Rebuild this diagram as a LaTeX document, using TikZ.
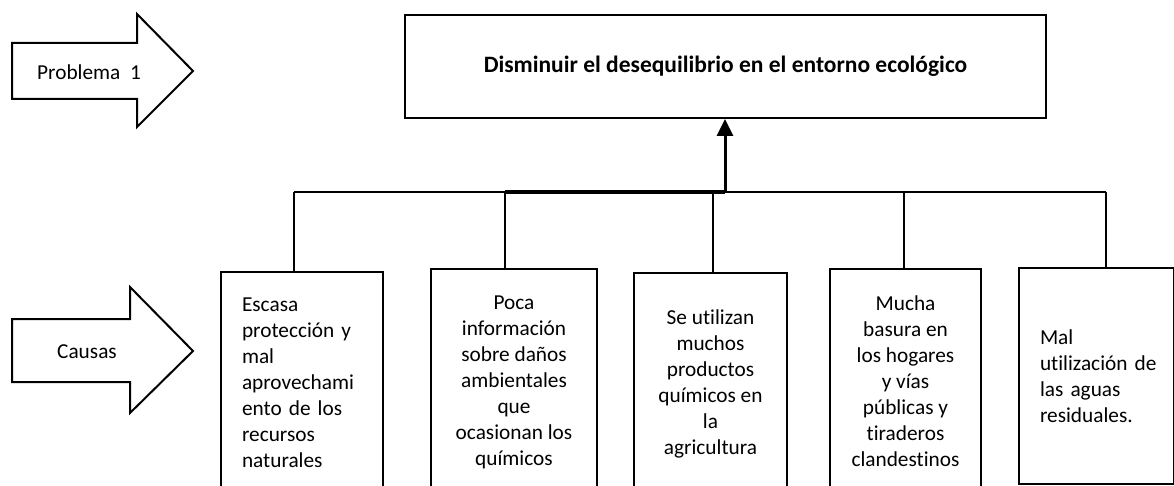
\documentclass[tikz,border=0pt]{standalone}
\usepackage{fontspec}
\setmainfont{Carlito}[Ligatures=NoCommon]
\usetikzlibrary{arrows.meta}
\begin{document}
\begin{tikzpicture}[x=1pt,y=-1pt,
  bodyfont/.style={font=\fontsize{21.3}{26}\selectfont},
  box/.style={draw, line width=2pt, inner sep=0pt, anchor=north west, bodyfont},
  cbox/.style={box, align=center},
  lbox/.style={box, align=left},
  link/.style={line width=2pt},
  thicklink/.style={line width=3.5pt},
  blockarrow/.style={draw, line width=2pt, line join=miter, fill=white},
  lbl/.style={inner sep=0pt, bodyfont}
]
\clip (0,0) rectangle (1174,486);
\fill[white] (0,0) rectangle (1174,486);

% block arrows on the left
\draw[blockarrow] (12,43) -- (137,43) -- (137,14) -- (193,71) -- (137,127) -- (137,99) -- (12,99) -- cycle;
\node[lbl] (prob) at (89,72) {Problema~~1};
\draw[blockarrow] (12,319) -- (130,319) -- (130,287) -- (193,351) -- (130,413) -- (130,382) -- (12,382) -- cycle;
\node[lbl] (caus) at (87,352) {Causas};

% problem box
\node[box, minimum width=641pt, minimum height=103pt,
      font=\bfseries\fontsize{23.5}{28}\selectfont] (top) at (404,14)
  {Disminuir el desequilibrio en el entorno ecológico};

% cause boxes
\node[lbox, minimum width=162pt, minimum height=221pt, text width=120pt] (b1) at (220,271)
  {\mbox{Escasa}\\\mbox{protección y}\\\mbox{mal}\\\mbox{aprovechami}\\\mbox{ento de los}\\\mbox{recursos}\\\mbox{naturales}};
\node[cbox, minimum width=166pt, minimum height=227pt] (b2) at (430,268)
  {Poca\\información\\sobre daños\\ambientales\\que\\ocasionan los\\químicos};
\node[cbox, minimum width=153pt, minimum height=222pt] (b3) at (633,272)
  {Se utilizan\\muchos\\productos\\químicos en\\la\\agricultura};
\node[cbox, minimum width=151pt, minimum height=225pt] (b4) at (829,268)
  {Mucha\\basura en\\los hogares\\y vías\\públicas y\\tiraderos\\clandestinos};
\node[lbox, minimum width=155pt, minimum height=216pt, text width=113pt] (b5) at (1018,267)
  {\mbox{Mal}\\\mbox{utilización de}\\\mbox{las aguas}\\\mbox{residuales.}};

% bus coordinates
\coordinate (c1) at (294,192);
\coordinate (c2) at (505,192);
\coordinate (c3) at (713,192);
\coordinate (c4) at (904,192);
\coordinate (c5) at (1106,192);
\coordinate (j) at (725,192);

\draw[link] (c1) -- (c5);
\draw[link] (c1) -- (c1 |- b1.north);
\draw[link] (c2) -- (c2 |- b2.north);
\draw[link] (c3) -- (c3 |- b3.north);
\draw[link] (c4) -- (c4 |- b4.north);
\draw[link] (c5) -- (c5 |- b5.north);
\draw[thicklink] (c2) -- (j);
\draw[line width=3pt, -{Triangle[length=17pt,width=16pt]}] (j) -- (j |- top.south);
\end{tikzpicture}
\end{document}
